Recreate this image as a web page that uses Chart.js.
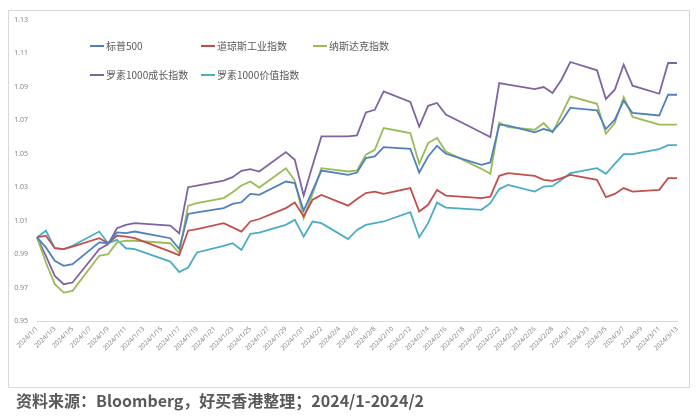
<!DOCTYPE html>
<html>
<head>
<meta charset="utf-8">
<script src="https://cdn.jsdelivr.net/npm/chart.js@4.4.1/dist/chart.umd.min.js"></script>
<style>
  html, body { margin: 0; padding: 0; background: #fff; }
  #wrap { position: relative; width: 700px; height: 420px; overflow: hidden; }
  #frame { position: absolute; left: 8px; top: 10px; width: 680px; height: 376px; border: 1px solid #d9d9d9; }
  #chart { position: absolute; left: 0; top: 0; }
  #source { position: absolute; left: 16px; top: 388px; font: bold 16px "Noto Sans CJK SC", sans-serif; color: #595959; white-space: nowrap; }
</style>
</head>
<body>
<div id="wrap">
  <div id="frame"></div>
  <canvas id="chart" width="700" height="420"></canvas>
  <div id="source">资料来源：Bloomberg，好买香港整理；2024/1-2024/2</div>
</div>
<script>
const _ = null; // no trading that day

// calendar days 2024/1/1 - 2024/3/13
const monthDays = [[1, 31], [2, 29], [3, 13]];
const days = [];
monthDays.forEach(([m, n]) => {
  for (let d = 1; d <= n; d++) days.push(`2024/${m}/${d}`);
});

const seriesNames = ['标普500', '道琼斯工业指数', '纳斯达克指数', '罗素1000成长指数', '罗素1000价值指数'];
const seriesColors = ['#4F81BD', '#C0504D', '#9BBB59', '#8064A2', '#4BACC6'];

// one row per week, Mon..Sun
const spx = [
  1.000, 0.994, 0.986, 0.983, 0.984, _, _,
  0.997, 0.9965, 1.003, 1.0025, 1.0035, _, _,
  _, 0.9995, 0.993, 1.014, 1.015, _, _,
  1.0175, 1.020, 1.021, 1.026, 1.0254, _, _,
  1.0334, 1.0325, 1.016, 1.028, 1.040, _, _,
  1.0374, 1.0388, 1.0474, 1.0484, 1.054, _, _,
  1.053, 1.0388, 1.0484, 1.0548, 1.050, _, _,
  _, 1.0434, 1.0448, 1.0674, 1.0668, _, _,
  1.0628, 1.0648, 1.0634, 1.0693, 1.0774, _, _,
  1.0759, 1.0648, 1.0704, 1.0817, 1.0744, _, _,
  1.0729, 1.0853, 1.0853
];
const dow = [
  1.000, 1.001, 0.9935, 0.993, 0.9945, _, _,
  0.9995, 0.9965, 1.001, 1.0005, 0.9995, _, _,
  _, 0.9915, 0.9893, 1.004, 1.005, _, _,
  1.0085, 1.006, 1.0035, 1.0095, 1.011, _, _,
  1.0175, 1.0208, 1.0125, 1.0225, 1.0254, _, _,
  1.019, 1.023, 1.0265, 1.0274, 1.026, _, _,
  1.0295, 1.0155, 1.0195, 1.0284, 1.025, _, _,
  _, 1.0235, 1.0244, 1.0368, 1.0384, _, _,
  1.0368, 1.0344, 1.0338, 1.0354, 1.0374, _, _,
  1.0344, 1.0241, 1.026, 1.0295, 1.0274, _, _,
  1.0284, 1.0354, 1.0354
];
const nasdaq = [
  1.000, 0.985, 0.972, 0.967, 0.968, _, _,
  0.989, 0.990, 0.997, 0.998, 0.998, _, _,
  _, 0.9965, 0.9905, 1.019, 1.0205, _, _,
  1.0235, 1.027, 1.031, 1.0334, 1.0298, _, _,
  1.0414, 1.034, 1.0115, 1.026, 1.0414, _, _,
  1.0394, 1.040, 1.0494, 1.0524, 1.0654, _, _,
  1.0624, 1.044, 1.0564, 1.0594, 1.0514, _, _,
  _, 1.041, 1.038, 1.0687, 1.066, _, _,
  1.0644, 1.0684, 1.0628, 1.0734, 1.0843, _, _,
  1.0799, 1.062, 1.0684, 1.0839, 1.072, _, _,
  1.0674, 1.0674, 1.0674
];
const r1000Growth = [
  1.000, 0.989, 0.977, 0.972, 0.973, _, _,
  0.993, 0.996, 1.0055, 1.0075, 1.0085, _, _,
  _, 1.007, 1.0025, 1.030, 1.031, _, _,
  1.034, 1.036, 1.0398, 1.0408, 1.0394, _, _,
  1.051, 1.0464, 1.025, 1.043, 1.0604, _, _,
  1.0604, 1.061, 1.0747, 1.0763, 1.0873, _, _,
  1.081, 1.0663, 1.0787, 1.0804, 1.0734, _, _,
  _, 1.0627, 1.060, 1.0923, 1.0913, _, _,
  1.0887, 1.0899, 1.0863, 1.0943, 1.1049, _, _,
  1.0999, 1.0828, 1.0883, 1.1033, 1.0907, _, _,
  1.0859, 1.1043, 1.1043
];
const r1000Value = [
  1.000, 1.004, 0.9935, 0.993, 0.995, _, _,
  1.0035, 0.9965, 0.9985, 0.9935, 0.993, _, _,
  _, 0.9855, 0.9792, 0.982, 0.991, _, _,
  0.9949, 0.9965, 0.9925, 1.0021, 1.0029, _, _,
  1.0075, 1.0105, 1.0005, 1.0095, 1.0085, _, _,
  0.999, 1.0045, 1.0075, 1.0085, 1.0095, _, _,
  1.0151, 1.0001, 1.0085, 1.0208, 1.0178, _, _,
  _, 1.0165, 1.0205, 1.0289, 1.0314, _, _,
  1.0274, 1.0304, 1.0308, 1.0344, 1.0384, _, _,
  1.0414, 1.038, 1.044, 1.0498, 1.0498, _, _,
  1.0528, 1.0552, 1.0552
];

const yMin = 0.95, yMax = 1.13, yStep = 0.02;

const allSeries = [spx, dow, nasdaq, r1000Growth, r1000Value];

// legend sits inside the plot, two rows like the original
const legendSlots = [[90, 46], [201, 46], [313, 46], [90, 75], [201, 75]];
const insideLegend = {
  id: 'insideLegend',
  afterDraw(chart) {
    const ctx = chart.ctx;
    ctx.save();
    ctx.font = '10px "Noto Sans CJK SC", sans-serif';
    ctx.textBaseline = 'middle';
    chart.data.datasets.forEach((ds, i) => {
      const [x, y] = legendSlots[i];
      ctx.strokeStyle = ds.borderColor;
      ctx.lineWidth = 2;
      ctx.beginPath();
      ctx.moveTo(x, y);
      ctx.lineTo(x + 14, y);
      ctx.stroke();
      ctx.fillStyle = '#595959';
      ctx.fillText(ds.label, x + 16, y);
    });
    ctx.restore();
  }
};

new Chart(document.getElementById('chart'), {
  type: 'line',
  data: {
    labels: days,
    datasets: allSeries.map((vals, i) => ({
      label: seriesNames[i],
      data: vals,
      borderColor: seriesColors[i],
      backgroundColor: seriesColors[i],
      borderWidth: 1.8,
      pointRadius: 0,
      tension: 0,
      spanGaps: true
    }))
  },
  options: {
    responsive: false,
    devicePixelRatio: 1,
    animation: false,
    layout: { padding: { left: 8, right: 23, top: 20, bottom: 39 } },
    plugins: {
      legend: { display: false },
      tooltip: { enabled: false }
    },
    scales: {
      x: {
        grid: { display: false, drawTicks: false },
        border: { display: true, color: '#d9d9d9', width: 1 },
        ticks: {
          autoSkip: false,
          maxRotation: 45,
          minRotation: 45,
          padding: 4,
          color: '#7f7f7f',
          font: { family: '"Open Sans", sans-serif', size: 6.5 },
          callback: (v, i) => (i % 2 === 0 ? days[i] : null)
        },
        afterFit: s => { s.height = 60; }
      },
      y: {
        min: yMin,
        max: yMax,
        grid: { display: false, drawTicks: false },
        border: { display: false },
        ticks: {
          stepSize: yStep,
          padding: 9,
          color: '#7f7f7f',
          font: { family: '"Open Sans", sans-serif', size: 7 },
          callback: v => v.toFixed(2)
        },
        afterFit: s => { s.width = 29; }
      }
    }
  },
  plugins: [insideLegend]
});
</script>
</body>
</html>
